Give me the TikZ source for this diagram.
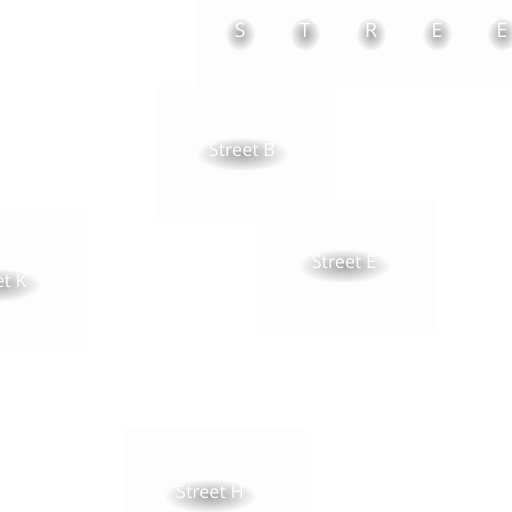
\documentclass[tikz,border=0pt]{standalone}
\usepackage{fontspec}
\setmainfont{Open Sans}
\usepackage{xcolor}
\usepackage{tikz}
\usetikzlibrary{fadings}
\definecolor{boxfill}{RGB}{253,253,253}
\definecolor{glow}{RGB}{110,110,110}
\tikzfading[name=softglow, inner color=transparent!0, outer color=transparent!100]
\tikzset{
  streetbox/.style={fill=boxfill, draw=none},
  glowblob/.style={fill=glow, path fading=softglow, fill opacity=0.6},
  streettxt/.style={text=white, inner sep=0.75pt, font=\fontsize{18}{21}\selectfont},
  titletxt/.style={text=white, inner sep=0.75pt, font=\fontsize{20}{24}\selectfont}
}
\begin{document}
\begin{tikzpicture}[x=1pt,y=1pt,yscale=-1,xscale=1]
\useasboundingbox (0,0) rectangle (512,512);
\clip (0,0) rectangle (512,512);
\fill[white] (0,0) rectangle (512,512);

%Shape: Rectangle [title]
\draw[streetbox] (196,-5) rectangle (530,87);
%Shape: Rectangle [street B]
\draw[streetbox] (156,87) rectangle (334,222);
%Shape: Rectangle [street E]
\draw[streetbox] (258,200) rectangle (435,335);
%Shape: Rectangle [street K]
\draw[streetbox] (-92,215) rectangle (87,350);
%Shape: Rectangle [street H]
\draw[streetbox] (125,428) rectangle (305,530);

% Title letters
\foreach \lx/\lt [count=\i] in {240/S,305/T,371/R,437/E,502/E} {
  \fill[glowblob] (\lx,34) ellipse [x radius=15, y radius=17];
  \node[titletxt] (title\i) at (\lx,30) {\lt};
}

% Text Node
\foreach \lx/\ly/\lab/\nm in {242/150/Street B/streetB, 344/262/Street E/streetE, -6/281/Street K/streetK, 210/492/Street H/streetH} {
  \fill[glowblob] (\lx,\ly+4) ellipse [x radius=46, y radius=17];
  \node[streettxt] (\nm) at (\lx,\ly) {\lab};
}

\end{tikzpicture}
\end{document}
